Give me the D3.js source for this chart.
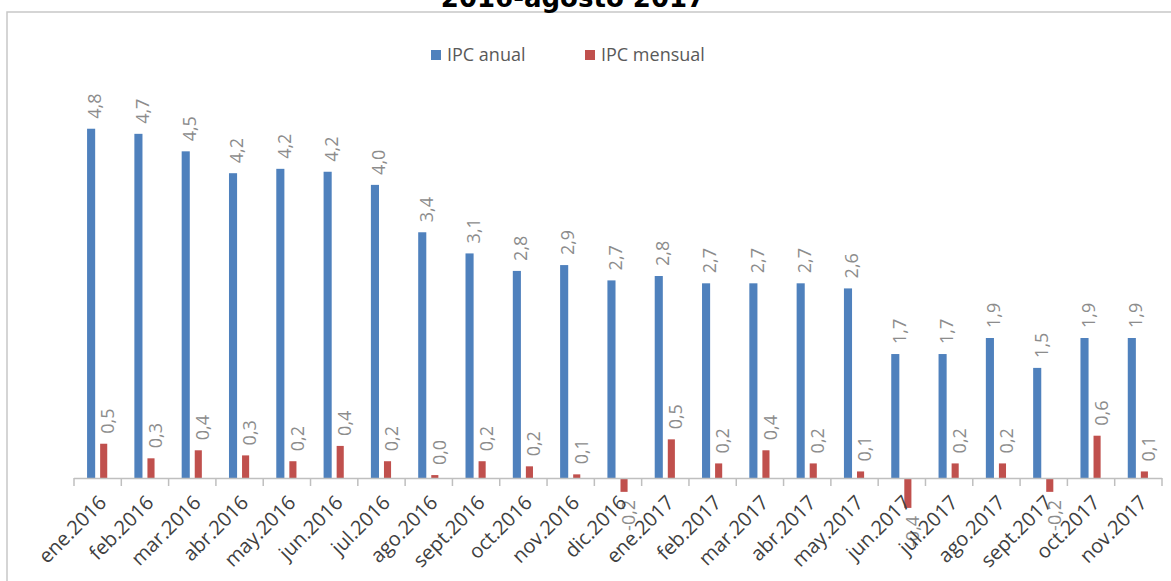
<!DOCTYPE html>
<html>
<head>
<meta charset="utf-8">
<script src="https://cdn.jsdelivr.net/npm/d3@7"></script>
<style>
  body { margin: 0; background: #fff; }
  svg { display: block; }
</style>
</head>
<body>
<script>
const categories = [
  "ene.2016", "feb.2016", "mar.2016", "abr.2016", "may.2016", "jun.2016",
  "jul.2016", "ago.2016", "sept.2016", "oct.2016", "nov.2016", "dic.2016",
  "ene.2017", "feb.2017", "mar.2017", "abr.2017", "may.2017", "jun.2017",
  "jul.2017", "ago.2017", "sept.2017", "oct.2017", "nov.2017"
];
const ipcAnual = [
  4.79, 4.72, 4.48, 4.18, 4.24, 4.2, 4.02, 3.37, 3.08, 2.84, 2.92, 2.71,
  2.77, 2.67, 2.67, 2.67, 2.6, 1.7, 1.7, 1.92, 1.51, 1.92, 1.92
];
const ipcMensual = [
  0.47, 0.27, 0.38, 0.31, 0.23, 0.44, 0.23, 0.04, 0.23, 0.16, 0.05, -0.19,
  0.53, 0.2, 0.38, 0.2, 0.09, -0.41, 0.2, 0.2, -0.19, 0.58, 0.09
];
const seriesNames = ["IPC anual", "IPC mensual"];
const colors = ["#4f81bd", "#c0504d"];

const W = 1171, H = 581;
const svg = d3.select("body").append("svg").attr("width", W).attr("height", H);

// chart frame (cut off on the right / bottom like the source)
svg.append("rect")
  .attr("x", 7).attr("y", 12).attr("width", W + 10).attr("height", H)
  .attr("fill", "none").attr("stroke", "#c8c8c8").attr("stroke-width", 1.5);

// last line of the title, mostly above the visible area
svg.append("text")
  .attr("x", 573).attr("y", 7)
  .attr("text-anchor", "middle")
  .attr("font-family", "'DejaVu Sans', sans-serif")
  .attr("font-weight", "bold").attr("font-size", 26)
  .attr("fill", "#000")
  .text("2016-agosto 2017");

const x = d3.scaleBand().domain(categories).range([74, 1162]);
const sub = d3.scaleBand().domain(seriesNames).range([0, x.bandwidth()])
  .paddingInner(0.38).paddingOuter(1);
const y = d3.scaleLinear().domain([0, 4.8]).range([478, 128]);

const fmt = (v) => v.toFixed(1).replace(".", ",");
const font = "'Open Sans', sans-serif";

// bars + value labels
const series = [ipcAnual, ipcMensual];
series.forEach((vals, s) => {
  const g = svg.append("g");
  g.selectAll("rect").data(vals).join("rect")
    .attr("x", (d, i) => x(categories[i]) + sub(seriesNames[s]))
    .attr("width", s === 0 ? sub.bandwidth() : sub.bandwidth() - 1)
    .attr("y", (d) => y(Math.max(0, d)))
    .attr("height", (d) => Math.abs(y(d) - y(0)))
    .attr("fill", colors[s]);

  g.selectAll("text").data(vals).join("text")
    .attr("transform", (d, i) => {
      const cx = x(categories[i]) + sub(seriesNames[s]) + sub.bandwidth() / 2 + 4;
      const yy = d >= 0 ? y(d) - 10 : y(d) + 8;
      return `translate(${cx},${yy}) rotate(-90)`;
    })
    .attr("text-anchor", (d) => (d >= 0 ? "start" : "end"))
    .attr("dy", "0.35em")
    .attr("font-family", font).attr("font-size", 18)
    .attr("fill", "#8c8c8c")
    .text(fmt);
});

// x axis
const axis = svg.append("g");
axis.append("line")
  .attr("x1", 74).attr("x2", 1162).attr("y1", 478.5).attr("y2", 478.5)
  .attr("stroke", "#bfbfbf").attr("stroke-width", 1.5);
const bounds = categories.map((c) => x(c)).concat([x.range()[1]]);
axis.selectAll("line.tick").data(bounds).join("line")
  .attr("class", "tick")
  .attr("x1", (d) => d).attr("x2", (d) => d)
  .attr("y1", 478).attr("y2", 486)
  .attr("stroke", "#bfbfbf").attr("stroke-width", 1.5);
axis.selectAll("text").data(categories).join("text")
  .attr("transform", (d) => `translate(${x(d) + x.bandwidth() / 2 + 5},${499}) rotate(-45)`)
  .attr("text-anchor", "end")
  .attr("dy", "0.35em")
  .attr("font-family", font).attr("font-size", 20)
  .attr("fill", "#404040")
  .text((d) => d);

// legend
const legend = svg.append("g").attr("transform", "translate(431,55)");
const legX = [0, 154];
seriesNames.forEach((n, i) => {
  legend.append("rect")
    .attr("x", legX[i]).attr("y", -5).attr("width", 10).attr("height", 10)
    .attr("fill", colors[i]);
  legend.append("text")
    .attr("x", legX[i] + 16).attr("y", 0).attr("dy", "0.35em")
    .attr("font-family", font).attr("font-size", 18)
    .attr("fill", "#595959")
    .text(n);
});
</script>
</body>
</html>
